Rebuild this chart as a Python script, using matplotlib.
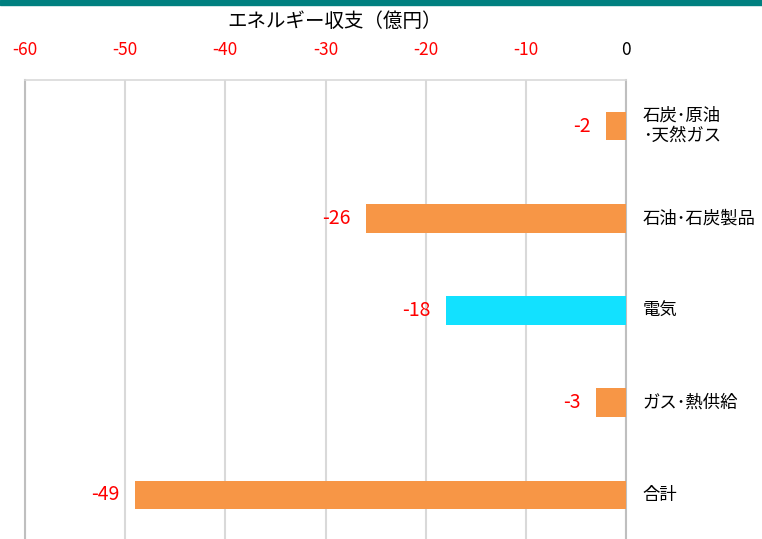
import matplotlib
matplotlib.use("Agg")
import matplotlib.pyplot as plt

plt.rcParams["font.family"] = ["Noto Sans CJK JP", "DejaVu Sans"]
plt.rcParams["axes.unicode_minus"] = False

# データ
categories = ["石炭･原油\n･天然ガス", "石油･石炭製品", "電気", "ガス･熱供給", "合計"]
values = [-2, -26, -18, -3, -49]
colors = ["#F79646", "#F79646", "#12E1FF", "#F79646", "#F79646"]
xticks = [-60, -50, -40, -30, -20, -10, 0]

W, H = 762, 539
fig = plt.figure(figsize=(W / 100, H / 100), dpi=100)

# 上部の帯
fig.add_artist(plt.Rectangle((0, 1 - 5 / H), 1, 5 / H, transform=fig.transFigure,
                             color="#008080", zorder=0))

ax = fig.add_axes([25 / W, -2 / H, (626 - 25) / W, (541 - 80) / H])

y = list(range(len(categories)))
ax.barh(y, values, height=0.31, color=colors, zorder=3)

ax.set_xlim(-60, 0)
ax.set_ylim(len(categories) - 0.5, -0.5)

ax.set_xticks(xticks)
ax.xaxis.tick_top()
ax.tick_params(axis="x", length=0, pad=15, labelsize=12.5)
for lbl, v in zip(ax.get_xticklabels(), xticks):
    lbl.set_color("black" if v == 0 else "red")
ax.set_yticks([])

ax.grid(axis="x", color="#D9D9D9", linewidth=1.5, zorder=0)
ax.spines["bottom"].set_visible(False)
ax.spines["top"].set_color("#D9D9D9")
ax.spines["top"].set_linewidth(1.2)
ax.spines["left"].set_color("#BFBFBF")
ax.spines["left"].set_linewidth(1.5)
ax.spines["right"].set_color("#BFBFBF")
ax.spines["right"].set_linewidth(1.5)

# 値ラベル
for yi, v in zip(y, values):
    ax.annotate(f"{v}", (v, yi), xytext=(-11, 0), textcoords="offset points",
                ha="right", va="center", color="red", fontsize=14)

# カテゴリラベル
for yi, c in zip(y, categories):
    ax.annotate(c, (0, yi), xytext=(12, 0), textcoords="offset points",
                ha="left", va="center", fontsize=12.5, linespacing=1.15,
                annotation_clip=False)

fig.text(335 / W, 1 - 21 / H, "エネルギー収支（億円）", ha="center", va="center",
         fontsize=14)

fig.savefig("out.png", dpi=100)
